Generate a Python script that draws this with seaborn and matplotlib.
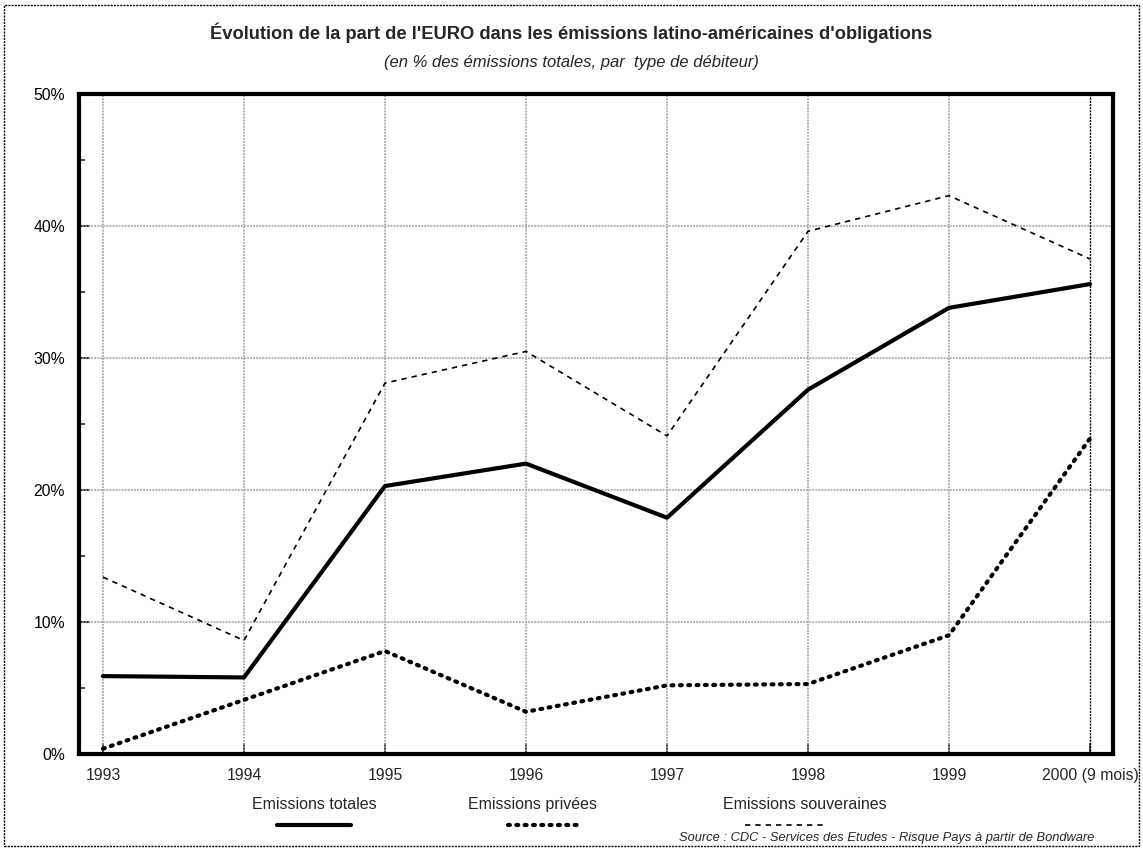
import matplotlib
matplotlib.use("Agg")
import matplotlib.pyplot as plt
from matplotlib.lines import Line2D
from matplotlib.patches import Rectangle
from matplotlib.ticker import MultipleLocator, FuncFormatter
import seaborn as sns
import pandas as pd

# Share of EURO-denominated bond issues by Latin American borrowers (%)
years = ["1993", "1994", "1995", "1996", "1997", "1998", "1999", "2000 (9 mois)"]
totales = [5.9, 5.8, 20.3, 22.0, 17.9, 27.6, 33.8, 35.6]
privees = [0.4, 4.1, 7.8, 3.2, 5.2, 5.3, 9.0, 23.9]
souveraines = [13.4, 8.6, 28.1, 30.5, 24.1, 39.6, 42.3, 37.5]

series_names = ["Emissions totales", "Emissions privées", "Emissions souveraines"]

sns.set_theme(style="white")
plt.rcParams["font.family"] = ["Liberation Sans", "DejaVu Sans"]

W, H = 1143, 849
fig = plt.figure(figsize=(W / 100, H / 100), dpi=100)
ax = fig.add_axes([79 / W, 1 - 754 / H, (1113 - 79) / W, (754 - 94) / H])

idx = list(range(len(years)))
df = pd.DataFrame({"x": idx * 3,
                   "val": totales + privees + souveraines,
                   "serie": [series_names[0]] * len(idx) + [series_names[1]] * len(idx)
                   + [series_names[2]] * len(idx)})

styles = {
    series_names[0]: dict(lw=3.0, ls="-", cap=None),
    series_names[1]: dict(lw=3.0, ls=(0, (0.45, 1.55)), cap="round"),
    series_names[2]: dict(lw=1.2, ls=(0, (3.2, 3.0)), cap=None),
}

# grid first so the series sit above it
grid_kw = dict(color="#9a9a9a", lw=1.1, ls=(0, (1.2, 0.8)), zorder=1)
for y in range(10, 50, 10):
    ax.axhline(y, **grid_kw)
for i in idx[:-1]:
    ax.axvline(i, **grid_kw)
ax.axvline(idx[-1], color="black", lw=1.0, ls=(0, (1.5, 0.8)), zorder=1)

for name in series_names:
    sub = df[df["serie"] == name]
    st = styles[name]
    sns.lineplot(data=sub, x="x", y="val", ax=ax, color="black", lw=st["lw"],
                 linestyle=st["ls"], legend=False, zorder=3, sort=False)
    if st["cap"]:
        ax.lines[-1].set_dash_capstyle(st["cap"])

ax.set_xlim(-0.17, len(years) - 1 + 0.163)
ax.set_ylim(0, 50)
ax.set_xticks(idx)
ax.set_xticklabels(years)
ax.yaxis.set_major_locator(MultipleLocator(10))
ax.yaxis.set_minor_locator(MultipleLocator(5))
ax.yaxis.set_major_formatter(FuncFormatter(lambda v, p: f"{int(v)}%"))
ax.tick_params(axis="y", which="major", direction="in", length=8, width=1.2,
               labelsize=11.3, pad=10, left=True, colors="black")
ax.tick_params(axis="y", which="minor", direction="in", length=4, width=1.2, left=True)
ax.tick_params(axis="x", which="major", direction="in", length=8, width=1.2,
               labelsize=11.3, pad=10, bottom=True)
ax.set_xlabel("")
ax.set_ylabel("")
for sp in ax.spines.values():
    sp.set_visible(True)
    sp.set_color("black")
    sp.set_linewidth(3.0)

# titles
fig.text(0.5, 1 - 33 / H, "Évolution de la part de l'EURO dans les émissions latino-américaines d'obligations",
         ha="center", va="center", fontsize=13.2, fontweight="bold")
fig.text(0.5, 1 - 63 / H, "(en % des émissions totales, par  type de débiteur)",
         ha="center", va="center", fontsize=12.0, style="italic")

# legend: label above a line sample
leg_text_x = [314, 532, 805]
leg_line = [(277, 351), (508, 582), (745, 826)]
for name, cx, (x0, x1) in zip(series_names, leg_text_x, leg_line):
    fig.text(cx / W, 1 - 809 / H, name, ha="center", va="baseline", fontsize=11.5)
    st = styles[name]
    ln = Line2D([x0 / W, x1 / W], [1 - 825 / H] * 2, color="black",
                lw=st["lw"], linestyle=st["ls"], transform=fig.transFigure)
    if st["cap"]:
        ln.set_dash_capstyle(st["cap"])
    fig.add_artist(ln)

fig.text(1094 / W, 1 - 838 / H, "Source : CDC - Services des Etudes - Risque Pays à partir de Bondware",
         ha="right", va="center", fontsize=9.3, style="italic")

# dotted frame around the whole figure
fig.add_artist(Rectangle((4 / W, 3 / H), (W - 8) / W, (H - 8) / H, transform=fig.transFigure,
                         fill=False, ec="black", lw=1.0, ls=(0, (1.5, 0.8))))

fig.savefig("out.png", dpi=100, facecolor="white")
